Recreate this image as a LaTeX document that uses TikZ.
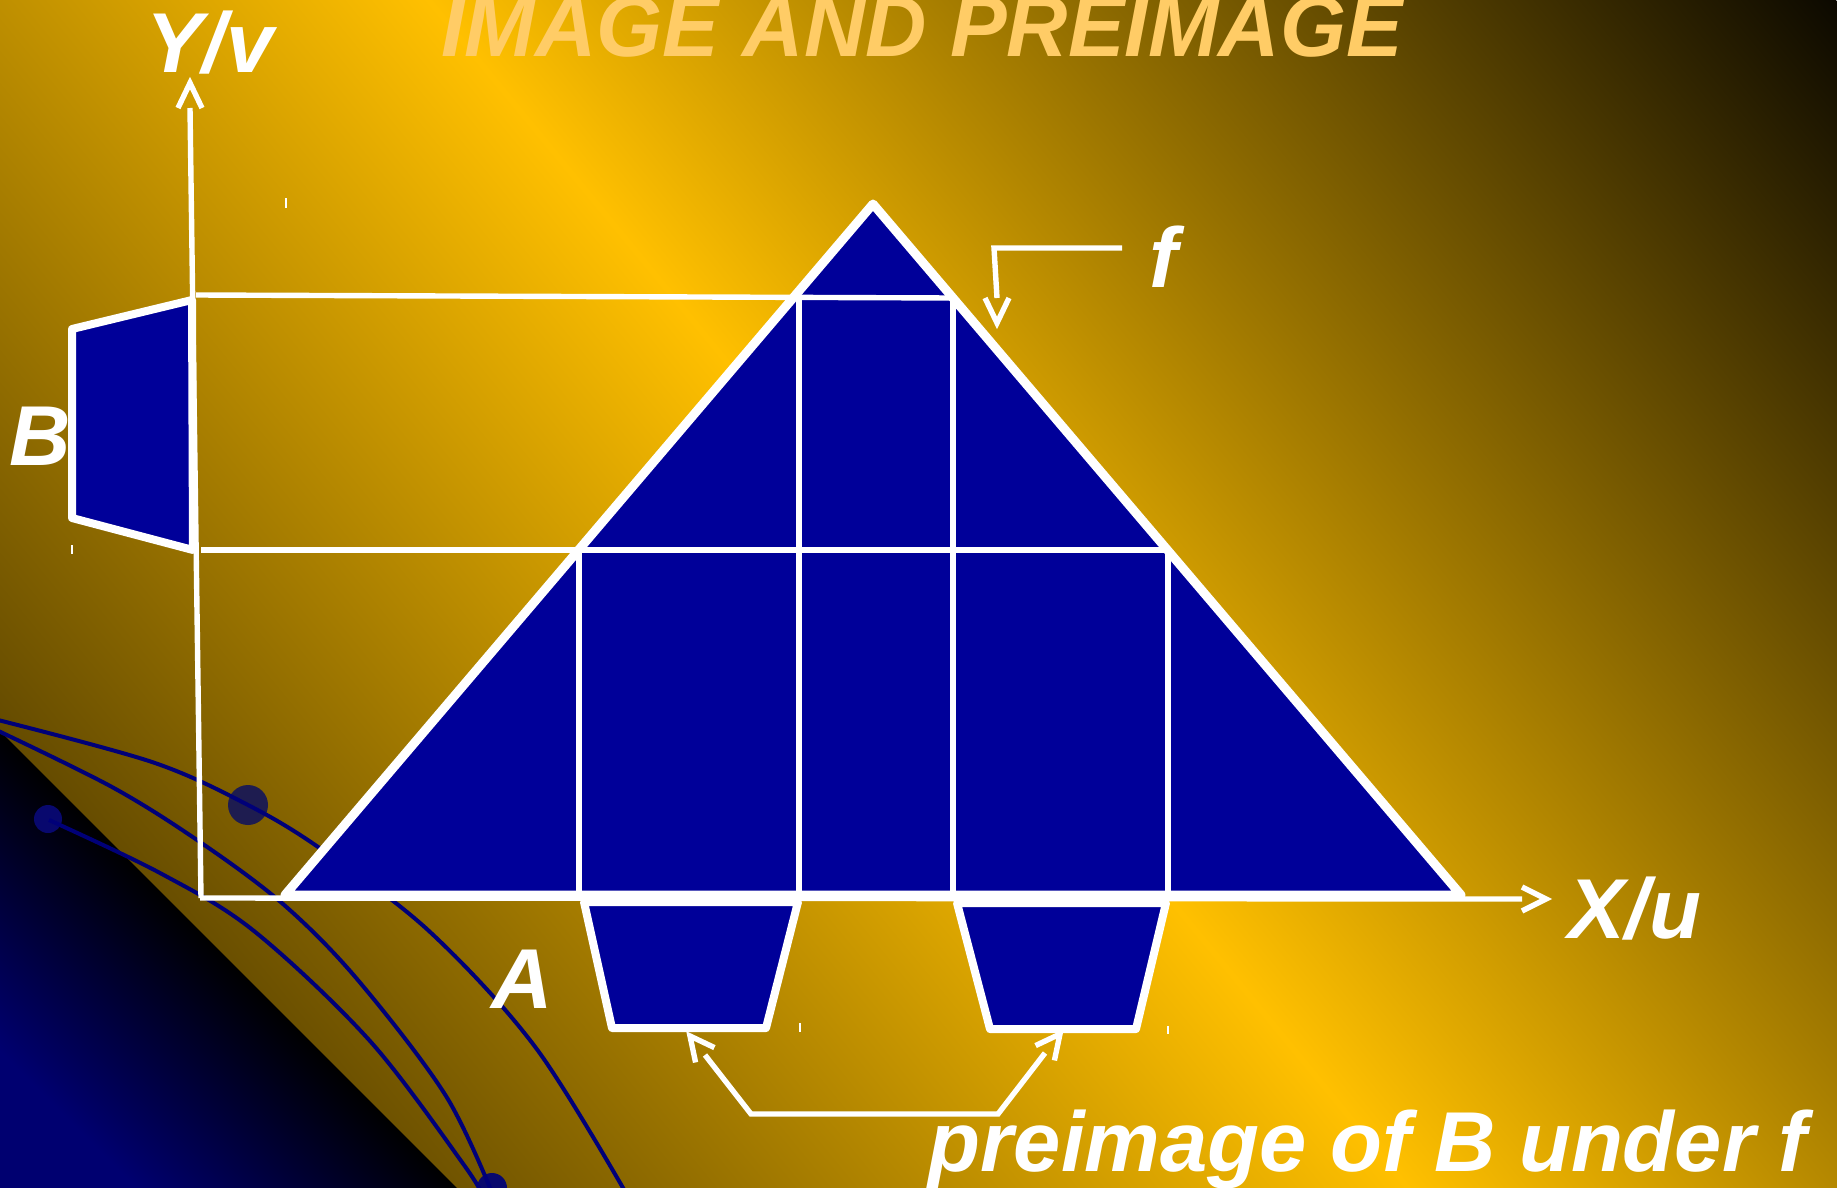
\documentclass[tikz,border=0pt]{standalone}
\usepackage{fontspec}
\setmainfont{Liberation Sans}
\usetikzlibrary{calc}
\definecolor{gold}{RGB}{255,192,0}
\definecolor{bgleft}{RGB}{44,32,0}
\definecolor{bgright}{RGB}{12,9,0}
\definecolor{fillblue}{RGB}{0,0,153}
\definecolor{navycorner}{RGB}{0,0,112}
\definecolor{curveblue}{RGB}{0,0,120}
\definecolor{titlecol}{RGB}{255,204,102}
\definecolor{dotcol}{RGB}{30,28,80}
\definecolor{dotblue}{RGB}{8,8,110}

\tikzset{
  triline/.style={draw=white, line width=4.5pt, line join=round},
  quadshape/.style={draw=white, line width=4pt, line join=round, fill=fillblue},
  thinline/.style={draw=white, line width=2.7pt},
  tickmark/.style={draw=white, line width=0.8pt},
  curveline/.style={draw=curveblue, line width=2pt},
  lbl/.style={text=white, inner sep=0pt, anchor=base,
    font=\fontsize{42.5pt}{51pt}\selectfont\bfseries\itshape},
}
\newcommand{\chevronhead}[2]{\draw[thinline] ($(#1)!6pt!90:(#2)$) -- (#2) -- ($(#1)!6pt!-90:(#2)$);}

\begin{document}
\begin{tikzpicture}[x=0.5pt,y=-0.5pt]
\useasboundingbox (0,0) rectangle (1837,1188);

% ---------- background ----------
\begin{scope}
\clip (0,0) rectangle (1837,1188);
\shade[transform canvas={shift={(918.5,594)},rotate=39.5},
  left color=bgleft, right color=bgright, middle color=gold]
  (-1086,-1100) rectangle (1086,1100);
\end{scope}
\begin{scope}
\clip (0,0) rectangle (1837,1188);
\shade[left color=navycorner, right color=black, middle color=black, shading angle=135]
  (0,731) -- (457,1188) -- (0,1188) -- cycle;
% decorative curves
\fill[dotcol] (248,805) circle[radius=20];
\fill[dotblue] (48,819) circle[radius=14];
\fill[dotblue] (492,1188) circle[radius=15];
\draw[curveline] plot[smooth, tension=0.55] coordinates {(-10,718) (152,762) (248,805) (321,849) (429,931) (536,1048) (630,1200)};
\draw[curveline] plot[smooth, tension=0.55] coordinates {(-10,727) (112,787) (200,842) (283,904) (357,979) (446,1096) (495,1200)};
\draw[curveline] plot[smooth, tension=0.55] coordinates {(49,820) (160,873) (254,931) (370,1041) (464,1165) (485,1200)};
\end{scope}

% ---------- coordinates ----------
\coordinate (apex) at (873,204);
\coordinate (bl) at (285,895);
\coordinate (br) at (1461,895);
\coordinate (O) at (201,898);
\coordinate (ybase) at (190,108);
\coordinate (ytip) at (190,83);
\coordinate (xstart) at (200,898);
\coordinate (xbase) at (1522,899);
\coordinate (xtip) at (1546,899);
\coordinate (t1) at (196,295);
\coordinate (t2) at (952,298);
\coordinate (m1) at (201,550);
\coordinate (m2) at (1168,550);
\coordinate (v1t) at (579,550);
\coordinate (v1b) at (579,895);
\coordinate (v2t) at (799,297);
\coordinate (v2b) at (799,895);
\coordinate (v3t) at (953,298);
\coordinate (v3b) at (953,895);
\coordinate (v4t) at (1168,550);
\coordinate (v4b) at (1168,895);

% ---------- axes ----------
\draw[thinline] (O) -- (ybase);
\chevronhead{ybase}{ytip}

% ---------- triangle with grid ----------
\fill[fillblue] (apex) -- (br) -- (bl) -- cycle;
\draw[thinline] (t1) -- (t2);
\draw[thinline] (m1) -- (m2);
\draw[thinline] (v1t) -- (v1b);
\draw[thinline] (v2t) -- (v2b);
\draw[thinline] (v3t) -- (v3b);
\draw[thinline] (v4t) -- (v4b);
\draw[triline] (apex) -- (br) -- (bl) -- cycle;
\draw[thinline] (xstart) -- (xbase);
\chevronhead{xbase}{xtip}

% ---------- set B ----------
\draw[quadshape] (72,329) -- (192,300) -- (193,550) -- (72,518) -- cycle;

% ---------- preimage pieces ----------
\draw[quadshape] (584,902) -- (798,902) -- (766,1028) -- (612,1028) -- cycle;
\draw[quadshape] (957,903) -- (1166,903) -- (1136,1029) -- (990,1029) -- cycle;

% ---------- f pointer ----------
\coordinate (f1) at (1122,248);
\coordinate (f2) at (994,248);
\coordinate (fbase) at (997,298);
\coordinate (ftip) at (997,323);
\draw[thinline] (f1) -- (f2) -- (fbase);
\chevronhead{fbase}{ftip}

% ---------- preimage connector ----------
\coordinate (lbase) at (705,1055);
\coordinate (ltip) at (690,1036);
\coordinate (c1) at (751,1114);
\coordinate (c2) at (998,1114);
\coordinate (rbase) at (1045,1053);
\coordinate (rtip) at (1060,1034);
\draw[thinline] (lbase) -- (c1) -- (c2) -- (rbase);
\chevronhead{lbase}{ltip}
\chevronhead{rbase}{rtip}

% ---------- tiny ticks ----------
\draw[tickmark] (286,198) -- (286,208);
\draw[tickmark] (72,545) -- (72,554);
\draw[tickmark] (800,1023) -- (800,1032);
\draw[tickmark] (1168,1026) -- (1168,1034);

% ---------- labels ----------
\node[lbl, text=titlecol, xscale=0.98, font=\fontsize{43.3pt}{52pt}\selectfont\bfseries\itshape] (title) at (922,57) {IMAGE AND PREIMAGE};
\node[lbl] (ylab) at (210,73) {Y/v};
\node[lbl] (xlab) at (1635,938) {X/u};
\node[lbl] (blab) at (40,465) {B};
\node[lbl] (alab) at (522,1008) {A};
\node[lbl] (flab) at (1164,287) {f};
\node[lbl] (plab) at (1368,1171) {preimage of B under f};
\end{tikzpicture}
\end{document}
